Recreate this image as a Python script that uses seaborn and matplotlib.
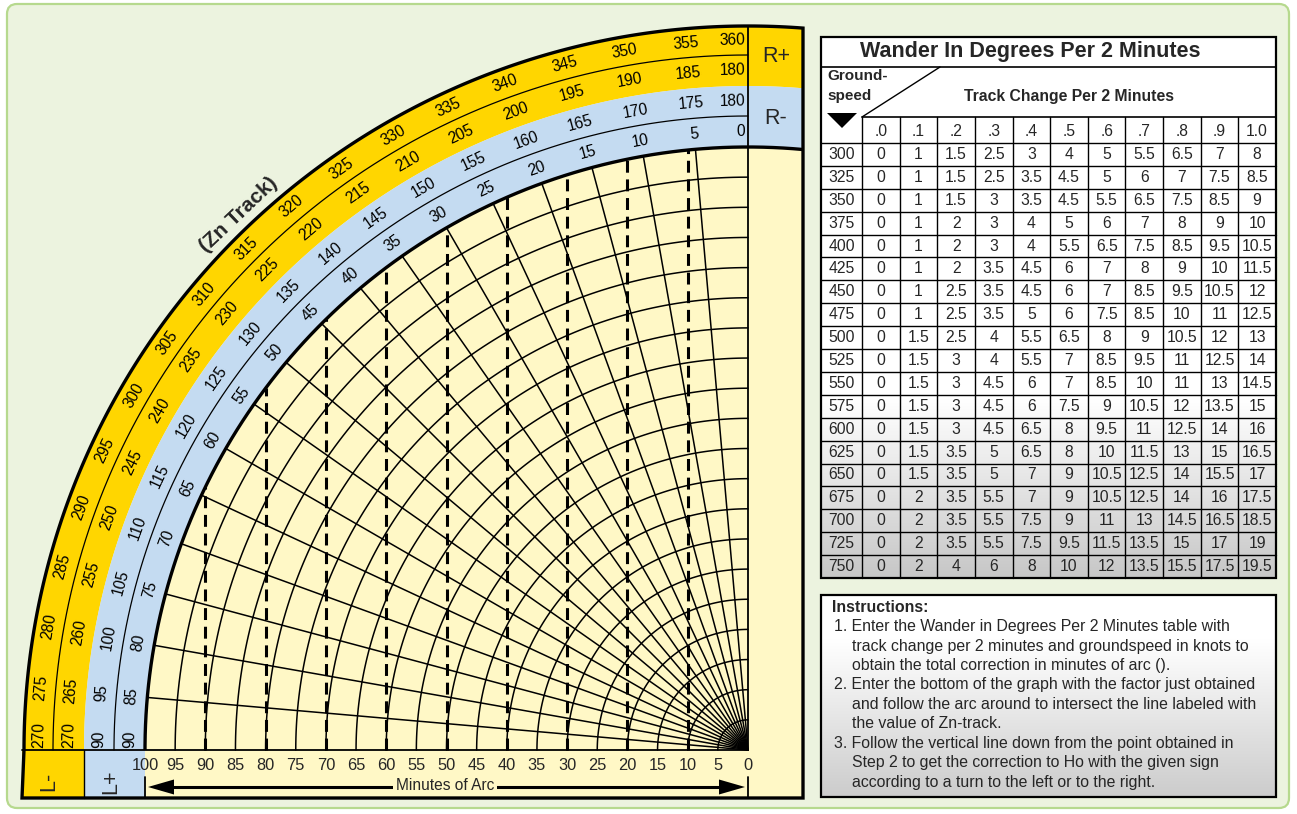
import numpy as np
import pandas as pd
import matplotlib
matplotlib.use("Agg")
import matplotlib.pyplot as plt
import seaborn as sns
from matplotlib.patches import Polygon, Rectangle, FancyBboxPatch

sns.set_theme(style="white")
plt.rcParams["font.family"] = ["Liberation Sans", "DejaVu Sans"]

# ------------------------------------------------------------------ data
minute_ticks = [100, 95, 90, 85, 80, 75, 70, 65, 60, 55, 50, 45, 40, 35, 30, 25, 20, 15, 10, 5, 0]
arc_minutes = [5, 10, 15, 20, 25, 30, 35, 40, 45, 50, 55, 60, 65, 70, 75, 80, 85, 90, 95]
dashed_minutes = [10, 20, 30, 40, 50, 60, 70, 80, 90]
track_angles = [0, 5, 10, 15, 20, 25, 30, 35, 40, 45, 50, 55, 60, 65, 70, 75, 80, 85, 90]
zn_blue_inner = [0, 5, 10, 15, 20, 25, 30, 35, 40, 45, 50, 55, 60, 65, 70, 75, 80, 85, 90]
zn_blue_outer = [180, 175, 170, 165, 160, 155, 150, 145, 140, 135, 130, 125, 120, 115, 110, 105, 100, 95, 90]
zn_yellow_inner = [180, 185, 190, 195, 200, 205, 210, 215, 220, 225, 230, 235, 240, 245, 250, 255, 260, 265, 270]
zn_yellow_outer = [360, 355, 350, 345, 340, 335, 330, 325, 320, 315, 310, 305, 300, 295, 290, 285, 280, 275, 270]

groundspeeds = [300, 325, 350, 375, 400, 425, 450, 475, 500, 525, 550, 575, 600, 625, 650, 675, 700, 725, 750]
track_change = [".0", ".1", ".2", ".3", ".4", ".5", ".6", ".7", ".8", ".9", "1.0"]
gs300 = [0, 1, 1.5, 2.5, 3, 4, 5, 5.5, 6.5, 7, 8]
gs325 = [0, 1, 1.5, 2.5, 3.5, 4.5, 5, 6, 7, 7.5, 8.5]
gs350 = [0, 1, 1.5, 3, 3.5, 4.5, 5.5, 6.5, 7.5, 8.5, 9]
gs375 = [0, 1, 2, 3, 4, 5, 6, 7, 8, 9, 10]
gs400 = [0, 1, 2, 3, 4, 5.5, 6.5, 7.5, 8.5, 9.5, 10.5]
gs425 = [0, 1, 2, 3.5, 4.5, 6, 7, 8, 9, 10, 11.5]
gs450 = [0, 1, 2.5, 3.5, 4.5, 6, 7, 8.5, 9.5, 10.5, 12]
gs475 = [0, 1, 2.5, 3.5, 5, 6, 7.5, 8.5, 10, 11, 12.5]
gs500 = [0, 1.5, 2.5, 4, 5.5, 6.5, 8, 9, 10.5, 12, 13]
gs525 = [0, 1.5, 3, 4, 5.5, 7, 8.5, 9.5, 11, 12.5, 14]
gs550 = [0, 1.5, 3, 4.5, 6, 7, 8.5, 10, 11, 13, 14.5]
gs575 = [0, 1.5, 3, 4.5, 6, 7.5, 9, 10.5, 12, 13.5, 15]
gs600 = [0, 1.5, 3, 4.5, 6.5, 8, 9.5, 11, 12.5, 14, 16]
gs625 = [0, 1.5, 3.5, 5, 6.5, 8, 10, 11.5, 13, 15, 16.5]
gs650 = [0, 1.5, 3.5, 5, 7, 9, 10.5, 12.5, 14, 15.5, 17]
gs675 = [0, 2, 3.5, 5.5, 7, 9, 10.5, 12.5, 14, 16, 17.5]
gs700 = [0, 2, 3.5, 5.5, 7.5, 9, 11, 13, 14.5, 16.5, 18.5]
gs725 = [0, 2, 3.5, 5.5, 7.5, 9.5, 11.5, 13.5, 15, 17, 19]
gs750 = [0, 2, 4, 6, 8, 10, 12, 13.5, 15.5, 17.5, 19.5]
wander_rows = [gs300, gs325, gs350, gs375, gs400, gs425, gs450, gs475, gs500, gs525,
               gs550, gs575, gs600, gs625, gs650, gs675, gs700, gs725, gs750]

instructions = [
    ("Instructions:", 0, True),
    ("1. Enter the Wander in Degrees Per 2 Minutes table with", 1, False),
    ("track change per 2 minutes and groundspeed in knots to", 2, False),
    ("obtain the total correction in minutes of arc ().", 2, False),
    ("2. Enter the bottom of the graph with the factor just obtained", 1, False),
    ("and follow the arc around to intersect the line labeled with", 2, False),
    ("the value of Zn-track.", 2, False),
    ("3. Follow the vertical line down from the point obtained in", 1, False),
    ("Step 2 to get the correction to Ho with the given sign", 2, False),
    ("according to a turn to the left or to the right.", 2, False),
]

# ------------------------------------------------------------------ style
BG = "#ECF3DF"
BG_EDGE = "#B6D98E"
YELLOW = "#FFD600"
BLUE = "#C4DBF1"
PALE = "#FFF8C6"

W, H = 1297, 814
CX, CY = 748, 750          # pole of the nomogram (pixels)
PXM = 6.03                 # pixels per minute of arc
R0, R1, R2, R3, R4 = 603, 634, 664, 695, 724
XL, XR, YB = 22, 803, 798

fig = plt.figure(figsize=(W / 100, H / 100), dpi=100)
ax = fig.add_axes([0, 0, 1, 1])
ax.set_xlim(0, W)
ax.set_ylim(H, 0)
ax.axis("off")


def polar(r, th):
    th = np.radians(th)
    return CX - r * np.sin(th), CY - r * np.cos(th)


def arc_pts(r, th0, th1, n=200):
    t = np.linspace(th0, th1, n)
    x, y = polar(r, t)
    return np.column_stack([x, y])


def right_angle(r):
    return -np.degrees(np.arcsin((XR - CX) / r))


# outer background
ax.add_patch(FancyBboxPatch((7, 4), 1282, 804, boxstyle="round,pad=0,rounding_size=10",
                            fc=BG, ec=BG_EDGE, lw=1.6, zorder=0))

# frame fill
outer = arc_pts(R4, right_angle(R4), 90)
frame = np.vstack([outer, [[XL, YB], [XR, YB]]])
ax.add_patch(Polygon(frame, closed=True, fc=PALE, ec="none", zorder=1))


def ring(r_in, r_out, color):
    o = arc_pts(r_out, right_angle(r_out), 90)
    i = arc_pts(r_in, right_angle(r_in), 90)[::-1]
    ax.add_patch(Polygon(np.vstack([o, i]), closed=True, fc=color, ec="none", zorder=2))


ring(R2, R4, YELLOW)
ring(R0, R2, BLUE)
ax.add_patch(Rectangle((XL, CY), CX - R2 - XL, YB - CY, fc=YELLOW, ec="none", zorder=2))
ax.add_patch(Rectangle((CX - R2, CY), R2 - R0, YB - CY, fc=BLUE, ec="none", zorder=2))

# concentric arcs and radial lines (seaborn)
arc_rows = []
for m in arc_minutes:
    p = arc_pts(m * PXM, 0, 90, 120)
    arc_rows.append(pd.DataFrame({"x": p[:, 0], "y": p[:, 1], "id": f"a{m}"}))
for a in track_angles[1:-1]:
    x, y = polar(np.array([0, R0]), a)
    arc_rows.append(pd.DataFrame({"x": x, "y": y, "id": f"r{a}"}))
grid_df = pd.concat(arc_rows, ignore_index=True)
sns.lineplot(data=grid_df, x="x", y="y", units="id", estimator=None, sort=False,
             color="black", lw=1.1, ax=ax, legend=False, zorder=3)

# dashed vertical guides
dash_rows = []
for m in dashed_minutes:
    xx = CX - m * PXM
    ytop = CY - np.sqrt(R0 ** 2 - (m * PXM) ** 2)
    dash_rows.append(pd.DataFrame({"x": [xx, xx], "y": [CY, ytop], "id": f"d{m}"}))
dash_df = pd.concat(dash_rows, ignore_index=True)
sns.lineplot(data=dash_df, x="x", y="y", units="id", estimator=None, sort=False,
             color="black", lw=2.2, linestyle=(0, (3.9, 2.2)), ax=ax, legend=False, zorder=3)

# structural lines
p = arc_pts(R0, right_angle(R0), 90)
ax.plot(p[:, 0], p[:, 1], color="black", lw=2.4, zorder=4, solid_capstyle="butt")
for r in (R1, R3):
    p = arc_pts(r, 0, 90)
    ax.plot(p[:, 0], p[:, 1], color="black", lw=0.9, zorder=4)
ax.plot([CX, CX], [CY - R4, CY], color="black", lw=1.3, zorder=4)
ax.plot([CX, CX], [777, YB], color="black", lw=1.3, zorder=4)
ax.plot([CX - R0, CX - R0], [777, YB], color="black", lw=1.3, zorder=4)
ax.plot([XL, CX], [CY, CY], color="black", lw=1.3, zorder=4)
ax.plot([CX - R2, CX - R2], [CY, YB], color="black", lw=1.0, zorder=4)
ax.add_patch(Polygon(frame, closed=True, fc="none", ec="black", lw=2.4, zorder=5,
                     joinstyle="miter"))

# ring labels
label_rings = [(618.5, zn_blue_inner), (649, zn_blue_outer),
               (679.5, zn_yellow_inner), (709.5, zn_yellow_outer)]
for r, vals in label_rings:
    for ang, v in zip(track_angles, vals):
        s = str(v)
        half = len(s) * 4.1 + 3
        a = ang
        if ang == 0:
            a = np.degrees(half / r)
        elif ang == 90:
            a = 90 - np.degrees(half / r)
        x, y = polar(r, a)
        ax.text(x, y, s, rotation=a, rotation_mode="anchor", ha="center", va="center",
                fontsize=11.2, color="black", zorder=6)

x, y = polar(739, 43.6)
ax.text(x, y, "(Zn Track)", rotation=43.6, rotation_mode="anchor", ha="center",
        va="center", fontsize=15, fontweight="bold", zorder=6)

# side cells
ax.text(776, 56, "R+", ha="center", va="center", fontsize=15.5, zorder=6)
ax.text(776, 118, "R-", ha="center", va="center", fontsize=15.5, zorder=6)
ax.text(49, 781, "L-", ha="center", va="center", rotation=90, fontsize=15.5, zorder=6)
ax.text(111, 782, "L+", ha="center", va="center", rotation=90, fontsize=15.5, zorder=6)

# bottom scale
for m in minute_ticks:
    ax.text(CX - m * PXM, 766, str(m), ha="center", va="center", fontsize=11.8, zorder=6)
ay = 787
ax.plot([165, 728], [ay, ay], color="black", lw=2.2, zorder=6)
ax.add_patch(Polygon([[148, ay], [174, ay - 7.5], [174, ay + 7.5]], closed=True,
                     fc="black", ec="none", zorder=6))
ax.add_patch(Polygon([[745, ay], [719, ay - 7.5], [719, ay + 7.5]], closed=True,
                     fc="black", ec="none", zorder=6))
ax.text(445, ay - 1, "Minutes of Arc", ha="center", va="center", fontsize=11.2, zorder=7,
        bbox=dict(boxstyle="square,pad=0.15", fc=PALE, ec="none"))

# ------------------------------------------------------------------ table
TX0, TX1 = 821, 1276
TY0, TY_TITLE, TY_HEAD, TY_COLS, TY1 = 37, 67, 117, 143, 578
C0 = 862
cw = (TX1 - C0) / len(track_change)
rh = (TY1 - TY_COLS) / len(groundspeeds)


def gradient(x0, x1, y0, y1, ystart, gray):
    ys = np.linspace(y0, y1, 300)
    t = np.clip((ys - ystart) / (y1 - ystart), 0, 1)
    v = 1 - (1 - gray) * t
    img = np.repeat(v[:, None], 2, axis=1)
    ax.imshow(np.dstack([img, img, img]), extent=(x0, x1, y0, y1), origin="lower",
              aspect="auto", zorder=1, interpolation="bilinear")


ax.add_patch(Rectangle((TX0, TY0), TX1 - TX0, TY_COLS - TY0, fc="white", ec="none", zorder=1))
gradient(TX0, TX1, TY_COLS, TY1, 400, 0.78)

ax.text(1030, 52, "Wander In Degrees Per 2 Minutes", ha="center", va="center",
        fontsize=15.5, fontweight="bold", zorder=6)
ax.text(827, 76, "Ground-", ha="left", va="center", fontsize=11, fontweight="bold", zorder=6)
ax.text(827, 96, "speed", ha="left", va="center", fontsize=11, fontweight="bold", zorder=6)
ax.text(1069, 96, "Track Change Per 2 Minutes", ha="center", va="center",
        fontsize=11.3, fontweight="bold", zorder=6)
ax.add_patch(Polygon([[827, 113], [857, 113], [842, 128]], closed=True, fc="black",
                     ec="none", zorder=6))
ax.plot([C0, 940], [TY_HEAD, TY_TITLE], color="black", lw=1.0, zorder=6)

ax.plot([TX0, TX1], [TY_TITLE, TY_TITLE], color="black", lw=1.2, zorder=6)
ax.plot([C0, TX1], [TY_HEAD, TY_HEAD], color="black", lw=1.2, zorder=6)
for j in range(len(track_change)):
    xx = C0 + j * cw
    ax.plot([xx, xx], [TY_HEAD, TY1], color="black", lw=1.0, zorder=6)
    ax.text(xx + cw / 2, 131, track_change[j], ha="center", va="center", fontsize=11.3,
            zorder=6)
for i, gs in enumerate(groundspeeds):
    y0 = TY_COLS + i * rh
    ax.plot([TX0, TX1], [y0, y0], color="black", lw=1.0, zorder=6)
    yc = y0 + rh / 2
    ax.text((TX0 + C0) / 2, yc, str(gs), ha="center", va="center", fontsize=11.3, zorder=6)
    for j, v in enumerate(wander_rows[i]):
        s = f"{v:g}"
        ax.text(C0 + j * cw + cw / 2, yc, s, ha="center", va="center", fontsize=11.3,
                zorder=6)
ax.add_patch(Rectangle((TX0, TY0), TX1 - TX0, TY1 - TY0, fc="none", ec="black", lw=1.6,
                       zorder=7))

# instructions box
IY0, IY1 = 595, 797
gradient(TX0, TX1, IY0, IY1, 640, 0.80)
ax.add_patch(Rectangle((TX0, IY0), TX1 - TX0, IY1 - IY0, fc="none", ec="black", lw=1.6,
                       zorder=7))
indent = {0: 832, 1: 834, 2: 852}
for k, (txt, lvl, bold) in enumerate(instructions):
    ax.text(indent[lvl], 607 + k * 19.5, txt, ha="left", va="center", fontsize=11.4,
            fontweight="bold" if bold else "normal", zorder=7)

ax.set_xlim(0, W)
ax.set_ylim(H, 0)
fig.savefig("out.png", dpi=100)
